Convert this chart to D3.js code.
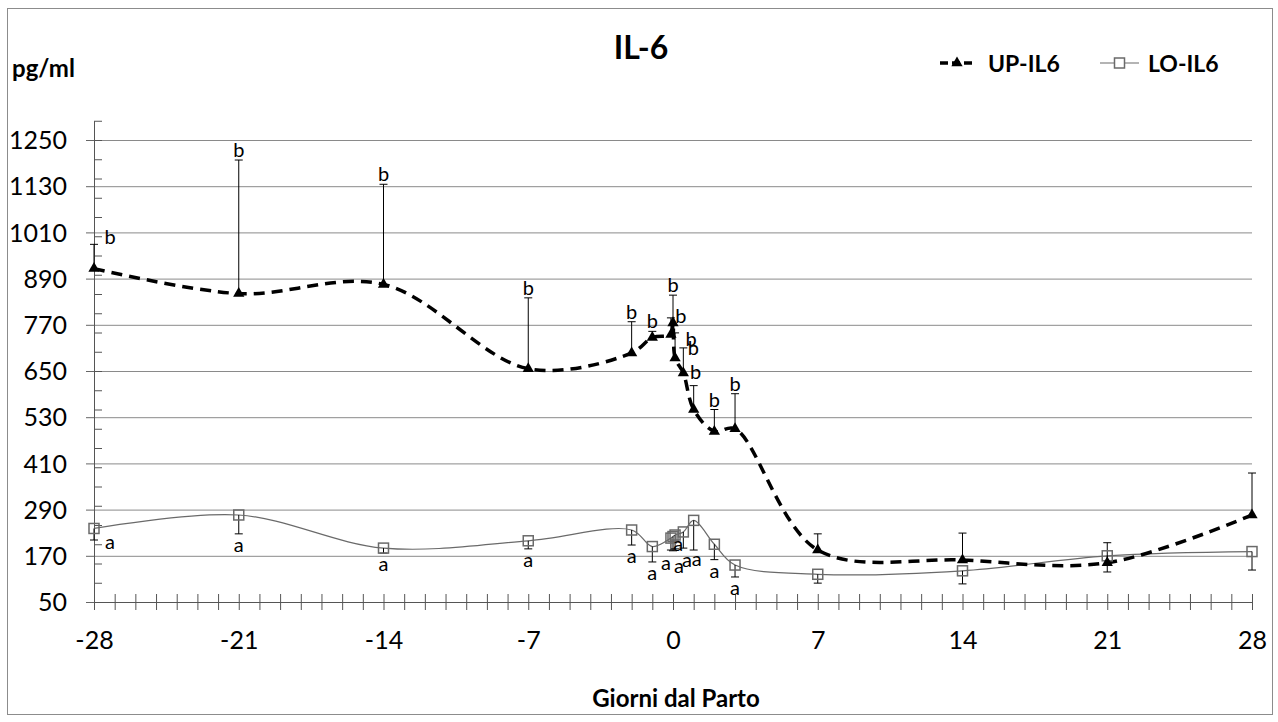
<!DOCTYPE html>
<html>
<head>
<meta charset="utf-8">
<script src="https://cdn.jsdelivr.net/npm/d3@7"></script>
<style>
  body { margin: 0; background: #fff; }
  text { font-family: Lato, "Open Sans", sans-serif; }
</style>
</head>
<body>
<div id="chart"></div>
<script>
// giorni dal parto (cluster around 0 = sampling hours on the day of calving)
const days = [-28, -21, -14, -7, -2, -1, -0.1, 0, 0.1, 0.5, 1, 2, 3, 7, 14, 21, 28];

const upValues = [916, 851, 875, 656, 697, 737, 745, 775, 684, 645, 550, 493, 500, 185, 159, 152, 276];
const upErrTop = [979, 1198, 1135, 840, 778, 753, 788, 847, 749, 710, 612, 550, 591, 227, 229, 204, 385];
const upLetters = ["b", "b", "b", "b", "b", "b", "b", "b", "b", "b", "b", "b", "b", "", "", "", ""];

const loValues = [241, 276, 190, 209, 237, 194, 216, 220, 224, 232, 262, 200, 146, 122, 131, 170, 181];
const loErrLow = [211, 227, 177, 188, 198, 154, 185, 183, 188, 190, 185, 160, 115, 99, 97, 128, 133];
const loLetters = ["a", "a", "a", "a", "a", "a", "a", "a", "a", "a", "a", "a", "a", "", "", "", ""];

const xTicks = [-28, -21, -14, -7, 0, 7, 14, 21, 28];
const yTicks = [50, 170, 290, 410, 530, 650, 770, 890, 1010, 1130, 1250];
const yMinorTicks = d3.range(50, 1301, 50);

const width = 1278;
const height = 722;

const svg = d3.select("#chart")
    .append("svg")
    .attr("width", width)
    .attr("height", height);

// outer frame
svg.append("rect")
    .attr("x", 7.5).attr("y", 8.5)
    .attr("width", 1265).attr("height", 706)
    .attr("fill", "none")
    .attr("stroke", "#8c8c8c");

const x = d3.scaleLinear().domain([-28, 28]).range([94, 1252]);
const y = d3.scaleLinear().domain([50, 1300]).range([602, 120.75]);

// gridlines
const grid = svg.append("g")
    .attr("transform", "translate(94,0)")
    .call(d3.axisLeft(y).tickValues(yTicks).tickSize(-(1252 - 94)).tickFormat(""));
grid.select(".domain").remove();
grid.selectAll("line").attr("stroke", "#8a8a8a");

// y axis: outer major ticks + labels
const yAxis = svg.append("g")
    .attr("transform", "translate(94,0)")
    .call(d3.axisLeft(y).tickValues(yTicks).tickSize(8).tickPadding(19)
        .tickSizeOuter(0).tickFormat(d3.format("d")));
yAxis.select(".domain").attr("stroke", "#555");
yAxis.selectAll("line").attr("stroke", "#666");
yAxis.selectAll("text")
    .attr("font-size", 25)
    .attr("fill", "#000")
    .attr("dy", "0.35em");

// y axis minor ticks (inside)
const yMinor = svg.append("g")
    .attr("transform", "translate(94,0)")
    .call(d3.axisRight(y).tickValues(yMinorTicks).tickSize(8).tickFormat("").tickSizeOuter(0));
yMinor.select(".domain").attr("stroke", "#555");
yMinor.selectAll("line").attr("stroke", "#555");

// x axis, ticks every day crossing the axis
const xAxis = svg.append("g")
    .attr("transform", "translate(0,602)")
    .call(d3.axisBottom(x)
        .tickValues(d3.range(-28, 29))
        .tickSize(8)
        .tickSizeOuter(0)
        .tickPadding(21)
        .tickFormat(d => xTicks.includes(d) ? d : ""));
xAxis.select(".domain").attr("stroke", "#555");
xAxis.selectAll("line").attr("y1", -8).attr("stroke", "#555");
xAxis.selectAll("text")
    .attr("font-size", 25)
    .attr("fill", "#000");

const upData = days.map((d, i) => ({ i: i, day: d, v: upValues[i], err: upErrTop[i], lab: upLetters[i] }));
const loData = days.map((d, i) => ({ i: i, day: d, v: loValues[i], err: loErrLow[i], lab: loLetters[i] }));

const line = d3.line()
    .x(d => x(d.day))
    .y(d => y(d.v))
    .curve(d3.curveCatmullRom.alpha(0.5));

// LO series line
svg.append("path")
    .datum(loData)
    .attr("d", line)
    .attr("fill", "none")
    .attr("stroke", "#6a6a6a")
    .attr("stroke-width", 1.2);

// error bars: UP upward, LO downward
function errorBars(data, cls) {
    const g = svg.append("g").attr("class", cls);
    g.selectAll("line.stem")
        .data(data)
        .enter().append("line")
        .attr("class", "stem")
        .attr("x1", d => x(d.day)).attr("x2", d => x(d.day))
        .attr("y1", d => y(d.v)).attr("y2", d => y(d.err))
        .attr("stroke", "#000").attr("stroke-width", 1);
    g.selectAll("line.cap")
        .data(data)
        .enter().append("line")
        .attr("class", "cap")
        .attr("x1", d => x(d.day) - 4).attr("x2", d => x(d.day) + 4)
        .attr("y1", d => y(d.err)).attr("y2", d => y(d.err))
        .attr("stroke", "#000").attr("stroke-width", 1);
}
errorBars(loData, "lo-err");
errorBars(upData, "up-err");

// UP series line (dashed)
svg.append("path")
    .datum(upData)
    .attr("d", line)
    .attr("fill", "none")
    .attr("stroke", "#000")
    .attr("stroke-width", 3.5)
    .attr("stroke-dasharray", "11,7");

// markers
svg.selectAll("rect.lo-mark")
    .data(loData)
    .enter().append("rect")
    .attr("class", "lo-mark")
    .attr("x", d => x(d.day) - 5)
    .attr("y", d => y(d.v) - 5)
    .attr("width", 10).attr("height", 10)
    .attr("fill", "none")
    .attr("stroke", "#6a6a6a")
    .attr("stroke-width", 1.5);

svg.selectAll("path.up-mark")
    .data(upData)
    .enter().append("path")
    .attr("class", "up-mark")
    .attr("transform", d => `translate(${x(d.day)},${y(d.v)})`)
    .attr("d", d3.symbol(d3.symbolTriangle, 55))
    .attr("fill", "#000");

// significance letters; the crowded ones around calving are pushed aside by hand
const upNudge = { 0: [16, 3], 6: [10, 8], 8: [16, 16], 9: [10, 10], 10: [2, -4] };
const loNudge = { 0: [16, -9], 6: [-5, 2], 7: [6, 4], 8: [12, 0], 9: [-5, -15], 10: [3, -2] };

svg.selectAll("text.up-lab")
    .data(upData.filter(d => d.lab))
    .enter().append("text")
    .attr("class", "up-lab")
    .attr("x", d => x(d.day) + (upNudge[d.i] ? upNudge[d.i][0] : 0))
    .attr("y", d => y(d.err) - 3 + (upNudge[d.i] ? upNudge[d.i][1] : 0))
    .attr("text-anchor", "middle")
    .attr("font-size", 20)
    .text(d => d.lab);

svg.selectAll("text.lo-lab")
    .data(loData.filter(d => d.lab))
    .enter().append("text")
    .attr("class", "lo-lab")
    .attr("x", d => x(d.day) + (loNudge[d.i] ? loNudge[d.i][0] : 0))
    .attr("y", d => y(d.err) + 18 + (loNudge[d.i] ? loNudge[d.i][1] : 0))
    .attr("text-anchor", "middle")
    .attr("font-size", 20)
    .text(d => d.lab);

// titles
svg.append("text")
    .attr("x", 641).attr("y", 59)
    .attr("text-anchor", "middle")
    .attr("font-size", 32).attr("font-weight", "bold")
    .text("IL-6");

svg.append("text")
    .attr("x", 12).attr("y", 77)
    .attr("font-size", 24).attr("font-weight", "bold")
    .text("pg/ml");

svg.append("text")
    .attr("x", 676).attr("y", 707)
    .attr("text-anchor", "middle")
    .attr("font-size", 24).attr("font-weight", "bold")
    .text("Giorni dal Parto");

// legend
const legend = svg.append("g");
legend.append("line")
    .attr("x1", 940).attr("x2", 974).attr("y1", 63).attr("y2", 63)
    .attr("stroke", "#000").attr("stroke-width", 3.5)
    .attr("stroke-dasharray", "8,4");
legend.append("path")
    .attr("transform", "translate(957,63)")
    .attr("d", d3.symbol(d3.symbolTriangle, 55))
    .attr("fill", "#000");
legend.append("text")
    .attr("x", 988).attr("y", 72)
    .attr("font-size", 23).attr("font-weight", "bold")
    .text("UP-IL6");

legend.append("line")
    .attr("x1", 1100).attr("x2", 1139).attr("y1", 63).attr("y2", 63)
    .attr("stroke", "#6a6a6a").attr("stroke-width", 1.2);
legend.append("rect")
    .attr("x", 1114.5).attr("y", 58)
    .attr("width", 10).attr("height", 10)
    .attr("fill", "#fff")
    .attr("stroke", "#6a6a6a").attr("stroke-width", 1.5);
legend.append("text")
    .attr("x", 1148).attr("y", 72)
    .attr("font-size", 23).attr("font-weight", "bold")
    .text("LO-IL6");
</script>
</body>
</html>
